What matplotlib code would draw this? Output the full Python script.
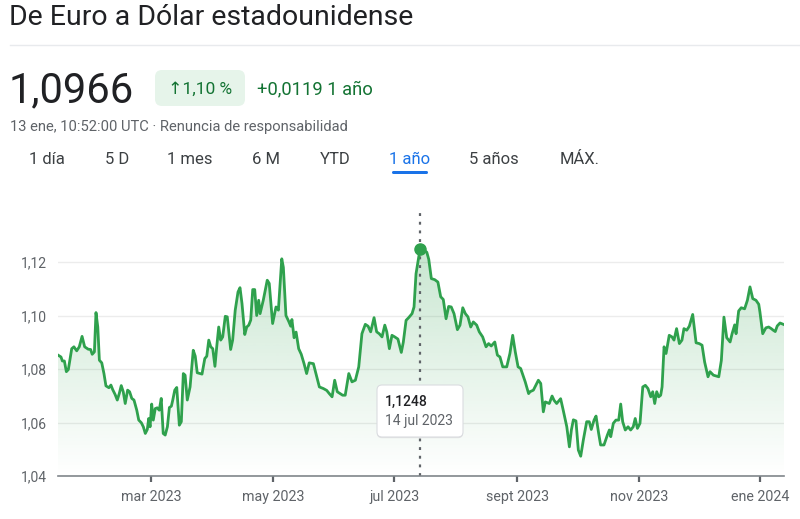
import matplotlib
matplotlib.use("Agg")
import matplotlib.pyplot as plt
import matplotlib.dates as mdates
from matplotlib.patches import FancyBboxPatch, Polygon
from matplotlib.transforms import ScaledTranslation
from matplotlib.colors import to_rgb
import numpy as np
import pandas as pd

# EUR -> USD, one year back from 13 Jan 2024
START = pd.Timestamp("2023-01-13")
days = [
    0, 1.5, 2.2, 3.2, 4.2, 5.2, 6.9, 8.0, 9.4, 10.7, 12.1, 13.4, 15.2, 16.4, 17.2, 18.3,
    19.1, 20.0, 20.8, 22.0, 23.1, 24.1, 25.6, 26.6, 27.5, 28.7, 29.8, 30.8, 31.8, 32.8,
    33.8, 35.0, 36.0, 37.1, 38.2, 39.6, 40.6, 41.9, 42.9, 43.9, 44.9, 45.6, 46.3, 47.1,
    47.9, 48.9, 49.9, 50.9, 51.9, 52.9, 53.9, 55.0, 56.0, 57.0, 57.7, 58.7, 59.7, 61.0,
    62.0, 63.0, 63.9, 65.0, 66.4, 68.0, 69.0, 70.0, 71.4, 72.4, 73.8, 74.8, 75.8, 76.8,
    77.8, 78.9, 79.8, 80.8, 81.8, 82.8, 84.1, 85.1, 86.8, 87.8, 89.1, 90.5, 91.5, 92.5,
    93.9, 94.9, 95.9, 96.9, 97.9, 98.9, 99.9, 100.9, 101.6, 103.2, 105.2, 106.2, 107.9,
    109.6, 110.8, 112.5, 113.3, 114.6, 116.0, 117.0, 117.6, 118.7, 119.7, 121.0, 122.3,
    123.7, 125.0, 126.3, 128.4, 129.7, 131.4, 133.4, 135.1, 136.4, 137.8, 139.1, 140.4,
    141.8, 143.1, 144.4, 146.2, 147.8, 149.5, 151.2, 152.8, 154.5, 155.9, 157.2, 158.9,
    160.2, 161.5, 162.9, 164.3, 165.3, 166.6, 167.9, 169.3, 170.9, 172.6, 173.6, 175.0,
    176.3, 178.0, 179.0, 180.0, 182.0, 183.7, 185.4, 186.4, 187.7, 189.4, 191.0, 192.4,
    193.7, 195.1, 196.4, 197.7, 199.1, 200.8, 202.1, 203.5, 204.8, 206.1, 207.5, 208.8,
    210.5, 211.8, 213.5, 215.2, 216.5, 217.8, 219.6, 220.9, 222.2, 223.6, 225.6, 227.2,
    228.6, 229.9, 231.3, 232.6, 234.9, 236.6, 237.3, 239.0, 241.5, 242.7, 244.0, 245.0,
    247.0, 248.4, 249.4, 250.7, 252.7, 254.0, 255.8, 257.1, 258.1, 259.1, 260.4, 261.6,
    262.8, 264.1, 265.8, 267.1, 268.1, 269.5, 270.5, 271.8, 272.8, 274.5, 276.2, 277.2,
    277.9, 279.2, 280.5, 281.9, 282.9, 283.9, 285.2, 286.6, 287.9, 289.2, 290.2, 291.3,
    292.6, 294.0, 295.3, 296.6, 298.0, 299.0, 300.0, 301.0, 302.0, 303.0, 303.7, 304.7,
    305.7, 307.3, 308.7, 309.7, 311.0, 312.4, 313.7, 314.7, 316.1, 317.4, 319.1, 320.8,
    322.4, 323.8, 325.1, 326.8, 327.8, 329.5, 332.2, 333.5, 334.8, 336.2, 337.9, 338.9,
    340.2, 340.9, 342.2, 343.5, 345.2, 346.6, 347.9, 349.3, 350.9, 352.3, 352.9, 354.3,
    355.9, 357.3, 358.6, 359.6, 360.6, 361.6, 363.0, 365.0,
]
rates = [
    1.0852, 1.0845, 1.0830, 1.0830, 1.0790, 1.0798, 1.0876, 1.0883, 1.0868, 1.0883, 1.0922,
    1.0883, 1.0874, 1.0873, 1.0855, 1.0864, 1.1011, 1.0957, 1.0833, 1.0823, 1.0783, 1.0737,
    1.0730, 1.0740, 1.0723, 1.0705, 1.0684, 1.0708, 1.0738, 1.0715, 1.0671, 1.0721, 1.0715,
    1.0690, 1.0684, 1.0646, 1.0609, 1.0599, 1.0584, 1.0559, 1.0574, 1.0615, 1.0584, 1.0669,
    1.0609, 1.0652, 1.0655, 1.0646, 1.0690, 1.0559, 1.0553, 1.0584, 1.0656, 1.0661, 1.0684,
    1.0721, 1.0731, 1.0590, 1.0603, 1.0783, 1.0777, 1.0684, 1.0733, 1.0870, 1.0848, 1.0786,
    1.0783, 1.0781, 1.0839, 1.0848, 1.0908, 1.0883, 1.0876, 1.0810, 1.0883, 1.0957, 1.0908,
    1.0920, 1.0997, 1.0995, 1.0873, 1.0908, 1.1020, 1.1088, 1.1104, 1.1045, 1.0929, 1.0957,
    1.0964, 1.0983, 1.1097, 1.1097, 1.1000, 1.1057, 1.1007, 1.1057, 1.1132, 1.1120, 1.0970,
    1.1032, 1.1020, 1.1212, 1.1180, 1.1000, 1.0978, 1.0960, 1.0985, 1.0917, 1.0938, 1.0876,
    1.0855, 1.0820, 1.0783, 1.0823, 1.0820, 1.0783, 1.0733, 1.0727, 1.0720, 1.0708, 1.0696,
    1.0758, 1.0715, 1.0708, 1.0702, 1.0702, 1.0783, 1.0752, 1.0758, 1.0808, 1.0932, 1.0967,
    1.0960, 1.0939, 1.0992, 1.0939, 1.0932, 1.0920, 1.0964, 1.0939, 1.0876, 1.0926, 1.0920,
    1.0912, 1.0862, 1.0900, 1.0982, 1.0992, 1.1007, 1.1032, 1.1156, 1.1248, 1.1244, 1.1237,
    1.1210, 1.1138, 1.1134, 1.1125, 1.1070, 1.1060, 1.0988, 1.1034, 1.1032, 1.1007, 1.0947,
    1.0964, 1.1029, 1.1007, 1.0995, 1.0957, 1.0976, 1.0964, 1.0939, 1.0920, 1.0883, 1.0895,
    1.0886, 1.0901, 1.0852, 1.0845, 1.0808, 1.0808, 1.0858, 1.0926, 1.0864, 1.0808, 1.0802,
    1.0752, 1.0708, 1.0715, 1.0721, 1.0758, 1.0746, 1.0640, 1.0677, 1.0671, 1.0699, 1.0683,
    1.0671, 1.0689, 1.0646, 1.0584, 1.0509, 1.0572, 1.0610, 1.0606, 1.0497, 1.0474, 1.0534,
    1.0603, 1.0603, 1.0574, 1.0609, 1.0624, 1.0560, 1.0516, 1.0516, 1.0553, 1.0572, 1.0547,
    1.0597, 1.0609, 1.0609, 1.0669, 1.0603, 1.0572, 1.0584, 1.0572, 1.0584, 1.0615, 1.0578,
    1.0597, 1.0733, 1.0739, 1.0727, 1.0696, 1.0715, 1.0671, 1.0715, 1.0696, 1.0702, 1.0733,
    1.0883, 1.0858, 1.0926, 1.0920, 1.0908, 1.0951, 1.0895, 1.0908, 1.0951, 1.0945, 1.0960,
    1.1004, 1.0898, 1.0895, 1.0889, 1.0826, 1.0771, 1.0790, 1.0777, 1.0771, 1.0832, 1.0994,
    1.0917, 1.0901, 1.0932, 1.0965, 1.0932, 1.1017, 1.1029, 1.1025, 1.1057, 1.1107, 1.1063,
    1.1057, 1.1042, 1.1013, 1.0932, 1.0954, 1.0957, 1.0951, 1.0945, 1.0940, 1.0961, 1.0972,
    1.0966,
]

tick_dates = ["2023-03-01", "2023-05-01", "2023-07-01", "2023-09-01", "2023-11-01", "2024-01-01"]
tick_labels = ["mar 2023", "may 2023", "jul 2023", "sept 2023", "nov 2023", "ene 2024"]
y_ticks = [1.04, 1.06, 1.08, 1.10, 1.12]

tabs = ["1 día", "5 D", "1 mes", "6 M", "YTD", "1 año", "5 años", "MÁX."]
tab_x = [47, 117, 190, 266, 335, 410, 494, 580]
active_tab = "1 año"

peak_date = pd.Timestamp("2023-07-14")
peak_value = 1.1248

GREEN = "#2fa14d"
DARK = "#202124"
GREY = "#5f6368"
FONT = ["Roboto", "DejaVu Sans"]
plt.rcParams["font.family"] = FONT

W, H = 800, 519
fig = plt.figure(figsize=(W / 100, H / 100), dpi=100)


def px(x, y):
    # pixel position (from top-left) -> inches for fig.dpi_scale_trans
    return x / 100, (H - y) / 100


def text(x, y, s, **kw):
    fig.text(*px(x, y), s, transform=fig.dpi_scale_trans, va="center", **kw)


# header
text(9, 17, "De Euro a Dólar estadounidense", fontsize=20.5, color=DARK)
fig.add_artist(plt.Line2D([0.1, 8.0], [(H - 45) / 100] * 2, transform=fig.dpi_scale_trans,
                          color="#e8eaed", lw=1))
text(9, 91, "1,0966", fontsize=30, color=DARK)
pill = FancyBboxPatch(px(155, 106), 0.90, 0.36, boxstyle="round,pad=0,rounding_size=0.07",
                      transform=fig.dpi_scale_trans, fc="#e6f4ea", ec="none")
fig.add_artist(pill)
text(200, 89, "↑1,10 %", fontsize=12.5, color="#137333", ha="center")
text(257, 89, "+0,0119 1 año", fontsize=13.2, color="#137333")
text(10, 127, "13 ene, 10:52:00 UTC · Renuncia de responsabilidad", fontsize=10.6, color=GREY)

for label, x in zip(tabs, tab_x):
    col = "#1a73e8" if label == active_tab else "#3c4043"
    text(x, 160, label, fontsize=12, color=col, ha="center")
ix = tabs.index(active_tab)
fig.add_artist(FancyBboxPatch(px(tab_x[ix] - 18, 174), 0.36, 0.03,
                              boxstyle="round,pad=0,rounding_size=0.015",
                              transform=fig.dpi_scale_trans, fc="#1a73e8", ec="none"))

# chart
ax = fig.add_axes([58 / W, (H - 476) / H, 726 / W, 264 / H])
dates = START + pd.to_timedelta(days, unit="D")
xnum = mdates.date2num(dates)
ymin, ymax = 1.04, 1.1387

ax.set_xlim(xnum[0], xnum[-1])
ax.set_ylim(ymin, ymax)

grad = np.zeros((256, 1, 4))
grad[..., :3] = to_rgb(GREEN)
grad[..., 3] = np.linspace(0.0, 0.26, 256)[:, None]
top = max(rates)
im = ax.imshow(grad, extent=[xnum[0], xnum[-1], ymin, top], origin="lower",
               aspect="auto", zorder=1, interpolation="bilinear")
poly = Polygon(np.column_stack([np.r_[xnum[0], xnum, xnum[-1]], np.r_[ymin, rates, ymin]]),
               closed=True, fc="none", ec="none", transform=ax.transData)
ax.add_patch(poly)
im.set_clip_path(poly)

ax.plot(xnum, rates, color=GREEN, lw=2.0, zorder=3, solid_joinstyle="round")
ax.axvline(mdates.date2num(peak_date), color=GREY, lw=1.6, ls=(0, (1.3, 2.6)), zorder=2)
ax.plot([mdates.date2num(peak_date)], [peak_value], "o", color=GREEN, ms=8, zorder=4)

ax.set_yticks(y_ticks, [f"{v:.2f}".replace(".", ",") for v in y_ticks])
ax.set_xticks(mdates.date2num(pd.to_datetime(tick_dates)), tick_labels)
ax.grid(axis="y", color="#ececec", lw=1)
ax.set_axisbelow(True)
for s in ["top", "right", "left"]:
    ax.spines[s].set_visible(False)
ax.spines["bottom"].set_color("#80868b")
ax.spines["bottom"].set_linewidth(1.2)
ax.tick_params(axis="y", length=0, pad=8, labelsize=10, labelcolor=GREY)
ax.tick_params(axis="x", length=4, width=1.6, color="#5f6368", pad=6,
               labelsize=10.3, labelcolor=GREY)

# tooltip
shadow = FancyBboxPatch(px(377, 437), 0.86, 0.52, boxstyle="round,pad=0,rounding_size=0.05",
                        fc="#e3e3e3", ec="none", zorder=5)
shadow.set_transform(fig.dpi_scale_trans + ScaledTranslation(0, -0.012, fig.dpi_scale_trans))
fig.add_artist(shadow)
fig.add_artist(FancyBboxPatch(px(377, 437), 0.86, 0.52, boxstyle="round,pad=0,rounding_size=0.05",
                              transform=fig.dpi_scale_trans, fc="white", ec="#dadce0",
                              lw=0.8, zorder=6))
fig.text(*px(385, 402), f"{peak_value:.4f}".replace(".", ","), transform=fig.dpi_scale_trans,
         va="center", fontsize=10, color=DARK, weight="medium", zorder=7)
fig.text(*px(385, 421), "14 jul 2023", transform=fig.dpi_scale_trans,
         va="center", fontsize=10, color=GREY, zorder=7)

fig.savefig("out.png", dpi=100)
